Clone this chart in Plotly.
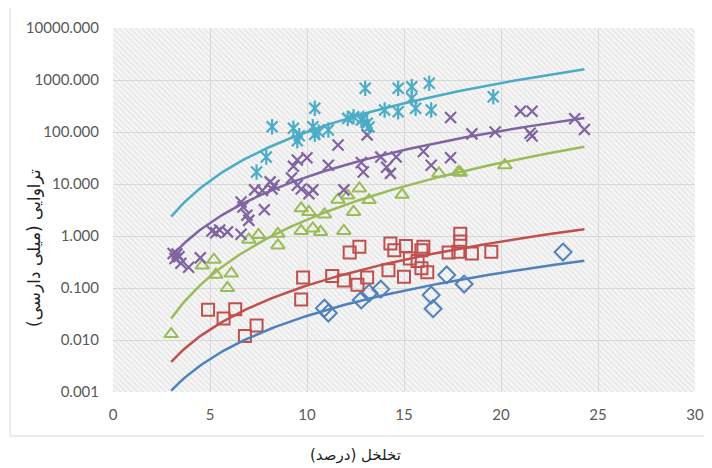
import numpy as np
import plotly.graph_objects as go

# ---------------- data ----------------
blue_x = [10.9, 11.1, 12.8, 13.2, 13.8, 16.4, 16.5, 17.2, 18.1, 23.2]
blue_y = [0.041, 0.033, 0.059, 0.080, 0.095, 0.073, 0.040, 0.178, 0.119, 0.49]

red_x = [4.9, 5.7, 6.3, 6.8, 7.4, 9.7, 9.8, 11.3, 11.9, 12.6, 13.1, 12.2, 12.7,
         14.2, 14.3, 14.5, 15.0, 15.1, 15.3, 15.7, 16.0, 15.9, 15.9, 16.2,
         17.3, 17.8, 17.9, 17.9, 18.5, 19.5]
red_y = [0.038, 0.026, 0.039, 0.012, 0.019, 0.060, 0.16, 0.17, 0.14, 0.115, 0.16, 0.48, 0.62,
         0.22, 0.72, 0.53, 0.165, 0.64, 0.37, 0.33, 0.62, 0.53, 0.24, 0.20,
         0.48, 0.50, 1.1, 0.78, 0.46, 0.50]

green_x = [3.0, 4.6, 5.2, 5.3, 5.9, 6.1, 7.0, 7.5, 8.5, 8.5, 9.7, 10.1, 9.7, 10.3,
           10.7, 10.9, 11.9, 11.6, 12.1, 12.7, 12.4, 13.2, 14.9, 16.8, 17.8, 17.9, 20.2]
green_y = [0.013, 0.27, 0.35, 0.18, 0.10, 0.19, 0.85, 1.05, 1.1, 0.66, 3.4, 2.9, 1.25, 1.4,
           1.2, 2.6, 1.25, 5.0, 6.0, 8.2, 2.9, 4.9, 6.2, 16, 17, 16.5, 23]

purple_x = [3.1, 3.2, 3.3, 3.4, 3.5, 3.9, 4.5, 5.1, 5.3, 5.5, 5.9, 6.6, 6.6, 6.7, 6.9,
            7.0, 7.3, 7.7, 7.8, 8.1, 8.2, 8.3, 9.2, 9.3, 9.5, 9.5, 9.7, 10.0, 10.1,
            10.3, 11.1, 11.6, 11.9, 12.8, 12.9, 13.1, 13.8, 14.1, 14.3, 14.6, 16.0,
            16.4, 17.4, 17.4, 18.5, 19.7, 21.0, 21.6, 21.5, 21.6, 23.8, 24.3]
purple_y = [0.46, 0.37, 0.45, 0.40, 0.30, 0.25, 0.38, 1.25, 1.15, 1.3, 1.2, 1.08, 4.5, 3.6, 2.5,
            2.0, 7.7, 7.5, 3.2, 11, 8.0, 9.5, 13, 22, 29, 9.5, 8.0, 32, 6.5,
            7.7, 23, 56, 7.7, 26, 17, 88, 33, 21, 16, 33, 42,
            23, 190, 32, 92, 100, 250, 250, 95, 84, 180, 112]

cyan_x = [7.4, 7.9, 8.2, 9.3, 9.5, 9.6, 10.3, 10.4, 10.4, 10.6, 11.1, 12.1, 12.4, 12.8,
          12.9, 13.1, 13.2, 13.0, 14.0, 14.7, 14.7, 15.4, 15.4, 15.6, 16.3, 16.4, 19.6]
cyan_y = [17, 33, 126, 118, 68, 85, 126, 286, 90, 100, 109, 183, 197, 170,
          183, 147, 125, 692, 265, 692, 245, 743, 445, 286, 865, 265, 478]

# trendline (power) values read at its two ends
trend_x_ends = [3.0, 24.3]
trend_start = {"blue": 0.00106, "red": 0.0038, "green": 0.026, "purple": 0.40, "cyan": 2.35}
trend_end = {"blue": 0.335, "red": 1.35, "green": 52.0, "purple": 186.0, "cyan": 1607.0}

x_ticks = [0, 5, 10, 15, 20, 25, 30]
y_ticks = [0.001, 0.01, 0.1, 1, 10, 100, 1000, 10000]
y_tick_text = ["0.001", "0.010", "0.100", "1.000", "10.000", "100.000", "1000.000", "10000.000"]

x_title = "تخلخل (درصد)"
y_title = "تراوایی (میلی دارسی)"

colors = {"blue": "#4F81BD", "red": "#C0504D", "green": "#9BBB59",
          "purple": "#8064A2", "cyan": "#4BACC6"}

fig = go.Figure()

# hatched plot background (covers the axis ranges)
fig.add_trace(go.Scatter(
    x=[0, 30, 30, 0, 0], y=[0.001, 0.001, 10000, 10000, 0.001],
    mode="lines", fill="toself", line=dict(width=0, color="rgba(0,0,0,0)"),
    fillcolor="rgba(0,0,0,0)",
    fillpattern=dict(shape="\\", fgcolor="#cfcfcf", bgcolor="rgba(0,0,0,0)",
                     size=4, solidity=0.3),
    hoverinfo="skip", showlegend=False))

def marker_trace(x, y, symbol, color, size, width=2):
    fig.add_trace(go.Scatter(
        x=x, y=y, mode="markers", showlegend=False,
        marker=dict(symbol=symbol, size=size, color=color,
                    line=dict(color=color, width=width))))

marker_trace(blue_x, blue_y, "diamond-open", colors["blue"], 13)
marker_trace(red_x, red_y, "square-open", colors["red"], 12)
marker_trace(green_x, green_y, "triangle-up-open", colors["green"], 12)
marker_trace(purple_x, purple_y, "x-thin-open", colors["purple"], 11, 2.2)
marker_trace(cyan_x, cyan_y, "x-thin-open", colors["cyan"], 11, 2.2)
marker_trace(cyan_x, cyan_y, "line-ns-open", colors["cyan"], 11, 2.2)

# power trendlines through the read end values
xs = np.linspace(trend_x_ends[0], trend_x_ends[1], 120)
for key in ["blue", "red", "green", "purple", "cyan"]:
    b = np.log(trend_end[key] / trend_start[key]) / np.log(trend_x_ends[1] / trend_x_ends[0])
    ys = trend_start[key] * (xs / trend_x_ends[0]) ** b
    fig.add_trace(go.Scatter(x=xs, y=ys, mode="lines", showlegend=False,
                             line=dict(color=colors[key], width=2.5), hoverinfo="skip"))

tick_font = dict(family="Lato, Carlito, sans-serif", size=15, color="#595959")

fig.update_layout(
    width=712, height=468,
    margin=dict(l=105, r=25, t=20, b=84, autoexpand=False),
    paper_bgcolor="white", plot_bgcolor="#f6f6f6",
    showlegend=False,
    xaxis=dict(range=[0, 30], tickvals=x_ticks, ticks="outside", ticklen=9,
               tickcolor="rgba(0,0,0,0)", showline=False,
               gridcolor="#d9d9d9", gridwidth=1, zeroline=False,
               tickfont=tick_font),
    yaxis=dict(type="log", range=[-3, 4], tickvals=y_ticks, ticktext=y_tick_text,
               ticks="outside", ticklen=10, tickcolor="rgba(0,0,0,0)",
               showline=False, gridcolor="#d9d9d9", gridwidth=1,
               zeroline=False, tickfont=tick_font),
    shapes=[dict(type="rect", xref="paper", yref="paper",
                 x0=-0.177, x1=1.027, y0=-0.121, y1=1.058,
                 line=dict(color="#d9d9d9", width=1), fillcolor="rgba(0,0,0,0)",
                 layer="below")],
    annotations=[
        dict(text=x_title, xref="paper", yref="paper", x=(355 - 113) / 582,
             y=(392 - 455) / 364, showarrow=False, xanchor="center", yanchor="middle",
             font=dict(family="DejaVu Sans", size=15, color="#222222")),
        dict(text=y_title, xref="paper", yref="paper", x=(34 - 113) / 582,
             y=(392 - 248) / 364, showarrow=False, textangle=-90,
             xanchor="center", yanchor="middle",
             font=dict(family="DejaVu Sans", size=17, color="#222222")),
    ],
)

fig.write_html("out.html")
